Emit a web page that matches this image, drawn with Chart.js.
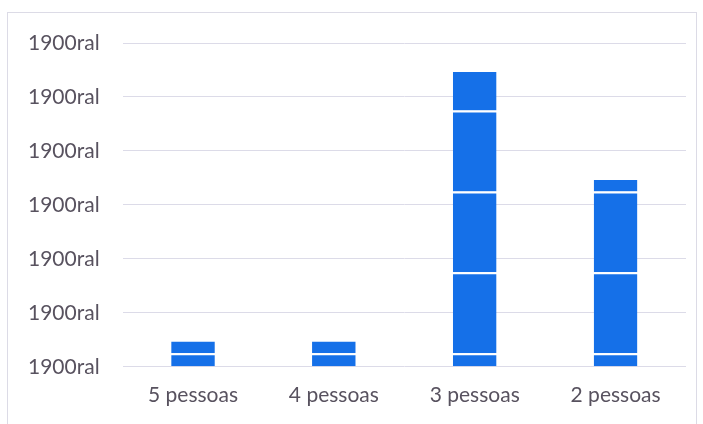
<!DOCTYPE html>
<html>
<head>
<meta charset="utf-8">
<script src="https://cdn.jsdelivr.net/npm/chart.js@4/dist/chart.umd.min.js"></script>
<style>
	body {
		margin: 0;
		background: #fff;
	}
	#wrap {
		position: relative;
		width: 703px;
		height: 424px;
	}
	#frame {
		position: absolute;
		left: 7px;
		top: 12px;
		width: 688px;
		height: 420px;
		border: 1px solid #dcdbe6;
		pointer-events: none;
	}
</style>
</head>
<body>
<div id="wrap">
	<canvas id="chart" width="703" height="424"></canvas>
	<div id="frame"></div>
</div>
<script>
let categories = ['5 pessoas', '4 pessoas', '3 pessoas', '2 pessoas'];

// stacked pieces, bottom to top (the white lines between them)
let part1 = [0.25, 0.25, 0.25, 0.25];
let part2 = [0.25, 0.25, 1.5, 1.5];
let part3 = [0, 0, 1.5, 1.5];
let part4 = [0, 0, 1.5, 0.25];
let part5 = [0, 0, 0.75, 0];

let tickLabel = '1900ral';

let blue = '#1570e8';
let textColor = '#58525f';

let parts = [part1, part2, part3, part4, part5];

new Chart(document.getElementById('chart'), {
	type: 'bar',
	data: {
		labels: categories,
		datasets: parts.map((values) => ({
			data: values,
			backgroundColor: blue,
			borderColor: '#ffffff',
			borderWidth: {top: 2, bottom: 0, left: 0, right: 0},
			borderSkipped: false,
			barPercentage: 0.31,
			categoryPercentage: 1,
		})),
	},
	options: {
		responsive: false,
		animation: false,
		layout: {
			padding: {left: 5, right: 17, top: 43, bottom: 0},
		},
		plugins: {
			legend: {display: false},
			tooltip: {enabled: false},
		},
		scales: {
			x: {
				stacked: true,
				grid: {display: false, drawTicks: false},
				border: {display: false},
				ticks: {
					color: textColor,
					padding: 16,
					font: {family: 'Lato', size: 21},
				},
			},
			y: {
				stacked: true,
				min: 0,
				max: 6,
				grid: {color: '#dcdbe8', drawTicks: false},
				border: {display: false},
				ticks: {
					stepSize: 1,
					color: textColor,
					padding: 23,
					font: {family: 'Lato', size: 21},
					callback: () => tickLabel,
				},
			},
		},
	},
});
</script>
</body>
</html>
